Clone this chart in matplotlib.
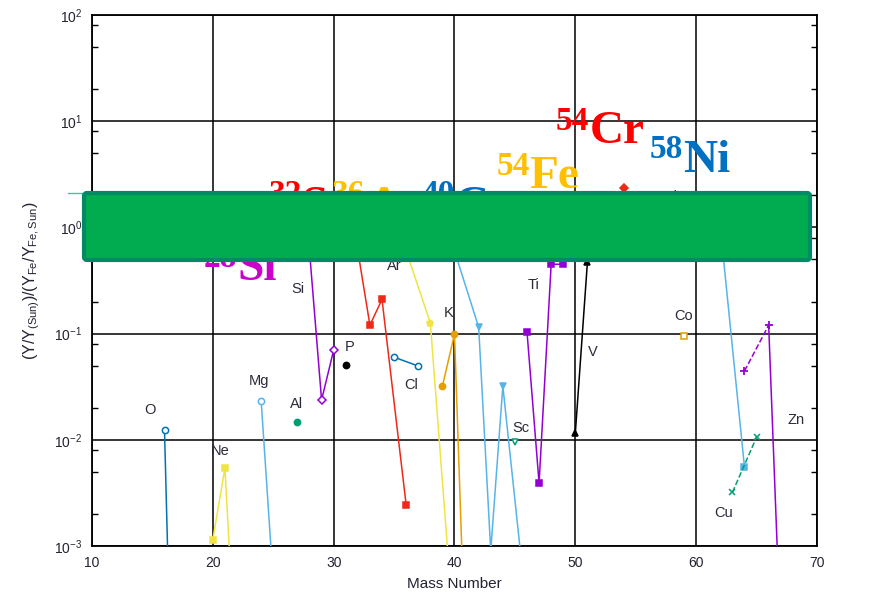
import matplotlib
matplotlib.use("Agg")
import matplotlib.pyplot as plt
from matplotlib.ticker import LogLocator, NullFormatter, FixedLocator
from matplotlib.patches import FancyBboxPatch
from matplotlib.lines import Line2D
from matplotlib.transforms import Affine2D

W, H = 895, 606

# Isotope abundances relative to solar, normalised to Fe
o_mass, o_val = [16, 17, 18], [0.0124, 5e-7, 1e-6]
ne_mass, ne_val = [20, 21, 22], [0.00115, 0.0054, 4.4e-5]
mg_mass, mg_val = [24, 25, 26], [0.0232, 4.6e-4, 1e-4]
al_mass, al_val = [27], [0.0147]
si_mass, si_val = [28, 29, 30], [0.6, 0.0237, 0.070]
p_mass, p_val = [31], [0.0506]
s_mass, s_val = [32, 33, 34, 36], [0.6, 0.12, 0.21, 0.00243]
cl_mass, cl_val = [35, 37], [0.060, 0.0495]
ar_mass, ar_val = [36, 38, 40], [0.6, 0.126, 1.3e-4]
k_mass, k_val = [39, 40, 41], [0.032, 0.099, 4.4e-5]
ca_mass, ca_val = [40, 42, 43, 44, 46, 48], [0.6, 0.115, 9e-4, 0.032, 2.3e-4, 1e-4]
sc_mass, sc_val = [45], [0.0096]
ti_mass, ti_val = [46, 47, 48, 49, 50], [0.104, 0.0039, 0.45, 0.45, 1.2]
v_mass, v_val = [50, 51], [0.0116, 0.47]
cr_mass, cr_val = [50, 52, 53, 54], [0.8, 1.0, 1.0, 2.35]
mn_mass, mn_val = [55], [0.8]
fe_mass, fe_val = [54, 56, 57, 58], [1.8, 1.0, 0.9, 1.2]
co_mass, co_val = [59], [0.095]
ni_mass, ni_val = [58, 60, 61, 62, 64], [2.0, 1.0, 0.7, 1.0, 0.0055]
cu_mass, cu_val = [63, 65], [0.0032, 0.0106]
zn_mass, zn_val = [64, 66, 67, 68, 70], [0.0445, 0.12, 1.3e-4, 5e-5, 1e-5]

# element name labels (text, mass, ratio)
elem_labels = [("O", 14.8, 0.0191), ("Ne", 20.6, 0.00785), ("Mg", 23.84, 0.0358),
               ("Al", 26.9, 0.0217), ("Si", 27.07, 0.263), ("P", 31.29, 0.0748),
               ("Cl", 36.43, 0.0328), ("Ar", 35.02, 0.433), ("K", 39.49, 0.156),
               ("Ca", 41.57, 0.538), ("Sc", 45.46, 0.0129), ("Ti", 46.54, 0.287),
               ("V", 51.42, 0.0671), ("Co", 58.96, 0.1466), ("Cu", 62.28, 0.00205),
               ("Zn", 68.24, 0.01535), ("Ni", 57.89, 1.95)]

x_ticks = [10, 20, 30, 40, 50, 60, 70]

BLUE, ORANGE, SKY, GREEN = "#0072B2", "#E69F00", "#56B4E9", "#009E73"
YELLOW, VIOLET, RED, BLACK = "#F0E442", "#9400D3", "#F02818", "#000000"

plt.rcParams["font.family"] = ["Liberation Sans", "DejaVu Sans"]
plt.rcParams["mathtext.fontset"] = "custom"
plt.rcParams["mathtext.rm"] = "Liberation Sans"
plt.rcParams["mathtext.it"] = "Liberation Sans"
plt.rcParams["axes.unicode_minus"] = False

fig = plt.figure(figsize=(W / 100, H / 100), dpi=100)
ax = fig.add_axes([92 / W, (H - 546) / H, (817 - 92) / W, (546 - 15) / H])

series = [
    (o_mass, o_val, BLUE, "o", False, "-"),
    (ne_mass, ne_val, YELLOW, "s", True, "-"),
    (mg_mass, mg_val, SKY, "o", False, "-"),
    (al_mass, al_val, GREEN, "o", True, "-"),
    (si_mass, si_val, VIOLET, "D", False, "-"),
    (p_mass, p_val, BLACK, "o", True, "-"),
    (s_mass, s_val, RED, "s", True, "-"),
    (cl_mass, cl_val, BLUE, "o", False, "-"),
    (ar_mass, ar_val, YELLOW, "p", True, "-"),
    (k_mass, k_val, ORANGE, "o", True, "-"),
    (ca_mass, ca_val, SKY, "v", True, "-"),
    (sc_mass, sc_val, GREEN, "v", False, "-"),
    (ti_mass, ti_val, VIOLET, "s", True, "-"),
    (v_mass, v_val, BLACK, "^", True, "-"),
    (cr_mass, cr_val, RED, "D", True, "-"),
    (mn_mass, mn_val, VIOLET, "o", True, "-"),
    (fe_mass, fe_val, YELLOW, "o", True, "-"),
    (co_mass, co_val, ORANGE, "s", False, "-"),
    (ni_mass, ni_val, SKY, "s", True, "-"),
    (cu_mass, cu_val, GREEN, "x", True, "--"),
]

for mass, val, col, mk, filled, ls in series:
    show = [i for i, v in enumerate(val) if v >= 1e-3]
    ax.plot(mass, val, color=col, lw=1.1, ls=ls, marker=mk, markersize=4.5,
            markevery=show, markerfacecolor=col if filled else "white",
            markeredgecolor=col, markeredgewidth=1.1, zorder=3)

# Zn: dashed across the missing 65, solid afterwards
ax.plot(zn_mass[:2], zn_val[:2], color=VIOLET, lw=1.1, ls="--", marker="+",
        markersize=6, markeredgewidth=1.3, zorder=3)
ax.plot(zn_mass[1:], zn_val[1:], color=VIOLET, lw=1.1, ls="-", zorder=3)

for txt, xm, yv in elem_labels:
    ax.text(xm, yv, txt, fontsize=10.5, color="#2a2a3a", ha="center", va="center",
            zorder=4)

ax.set_yscale("log")
ax.set_xlim(10, 70)
ax.set_ylim(1e-3, 1e2)
ax.xaxis.set_major_locator(FixedLocator(x_ticks))
ax.yaxis.set_major_locator(LogLocator(base=10, numticks=10))
ax.yaxis.set_minor_locator(LogLocator(base=10, subs=[2, 5, 8], numticks=20))
ax.yaxis.set_minor_formatter(NullFormatter())
ax.grid(True, which="major", color="black", lw=1.1)
ax.set_axisbelow(True)
for sp in ax.spines.values():
    sp.set_linewidth(1.3)
ax.tick_params(which="major", direction="in", length=0, labelsize=10,
               labelcolor="#222233", pad=7)
ax.tick_params(axis="y", which="minor", direction="in", length=4, width=1,
               left=True, right=True)

ax.set_xlabel("Mass Number", fontsize=11, color="#222233")
ax.xaxis.set_label_coords(0.5, -0.058)
ax.set_ylabel(r"$\mathdefault{(Y/Y_{(Sun)})/(Y_{Fe}/Y_{Fe,Sun})}$", fontsize=11.5,
              color="#222233")
ax.yaxis.set_label_coords(-0.069, 0.5)

# figure-pixel transform (origin top-left)
pxt = Affine2D().scale(1 / W, 1 / H) + fig.transFigure


def iso_label(num, sym, xn, bn, xs, bs, col):
    fig.text(xn, H - bn, num, transform=pxt, fontsize=24, fontweight="bold",
             family="Liberation Serif", color=col, ha="left", va="baseline",
             zorder=5)
    fig.text(xs, H - bs, sym, transform=pxt, fontsize=34, fontweight="bold",
             family="Liberation Serif", color=col, ha="left", va="baseline",
             zorder=5)


iso_label("54", "Cr", 556, 130, 590, 143, "#FF0000")
iso_label("58", "Ni", 650, 158, 683, 172, "#0070C0")
iso_label("54", "Fe", 497, 175, 529, 188, "#FFC000")
iso_label("32", "S", 269, 203, 301, 218, "#FF0000")
iso_label("36", "Ar", 332, 203, 367, 218, "#FFC000")
iso_label("40", "Ca", 422, 203, 455, 218, "#0070C0")
iso_label("28", "Si", 204, 267, 237, 280, "#CC00CC")

# green banner over the middle of the plot
banner = FancyBboxPatch((84, H - 260), 726, 67,
                        boxstyle="round,pad=0,rounding_size=3",
                        transform=pxt, facecolor="#00AC4F", edgecolor="#008A66",
                        linewidth=3, zorder=10)
fig.add_artist(banner)
fig.add_artist(Line2D([68, 84], [H - 193, H - 193], transform=pxt,
                      color="#3CC8A0", lw=1, zorder=9))

fig.savefig("out.png", dpi=100)
